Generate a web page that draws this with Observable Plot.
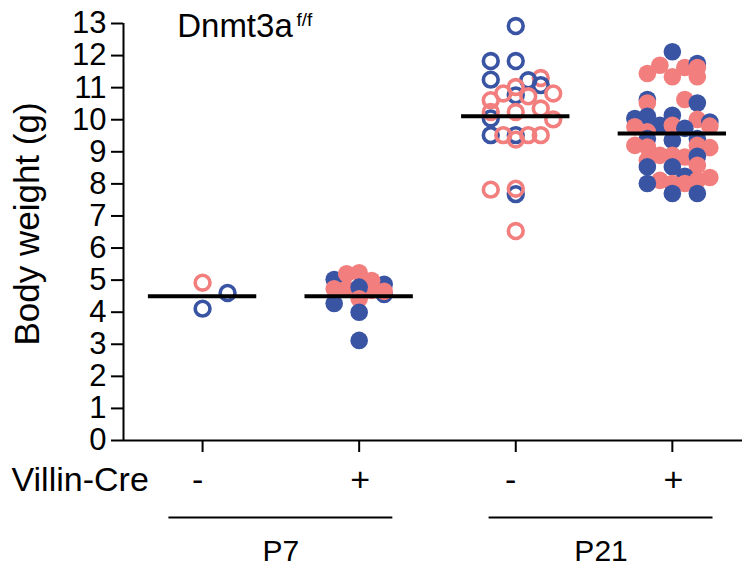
<!DOCTYPE html>
<html><head><meta charset="utf-8">
<script src="https://cdn.jsdelivr.net/npm/d3@7"></script>
<script src="https://cdn.jsdelivr.net/npm/@observablehq/plot@0.6"></script>
<style>html,body{margin:0;padding:0;background:#fff} svg{display:block}</style>
</head><body><div id="chart"></div>
<script>
// ---- data ----
const groups = ["P7 -", "P7 +", "P21 -", "P21 +"];
const creLabels = ["-", "+", "-", "+"];
const ages = ["P7", "P21"];
const yTicks = d3.range(0, 14);
const meanWeight = [4.50, 4.50, 10.11, 9.57];

// P7, Villin-Cre -  (open circles)
const p7NegWeight = [4.92, 4.11, 4.60];
const p7NegLane   = [0, 0, 2];
const p7NegSex    = ["F", "M", "M"];

// P7, Villin-Cre +  (filled)
const p7PosWeight = [5.02, 4.87, 4.55, 5.20, 5.23, 4.99, 4.73, 4.73, 4.68, 4.78, 4.27, 4.42, 4.00, 3.12, 4.65];
const p7PosLane   = [-2, 2, 2, -1, 0, 1, -2, -1, 1, 0, -2, 0, 0, 0, 2];
const p7PosSex    = ["M","M","M","F","F","F","F","F","F","M","M","F","M","M","F"];

// P21, Villin-Cre -  (open circles)
const p21NegWeight = [12.92, 11.83, 11.83, 11.25, 11.30, 11.23, 11.08, 10.76, 11.02, 10.82, 10.61, 10.73, 10.82, 10.04, 10.24, 10.24, 10.35, 10.01, 9.52, 9.52, 9.52, 9.38, 9.52, 9.52, 7.82, 7.68, 7.85, 6.53];
const p21NegLane   = [0, -2, 0, -2, 2, 1, 2, 0, 0, -1, -2, 1, 3, -2, -2, 0, 2, 3, -2, 0, -1, 0, 1, 2, -2, 0, 0, 0];
const p21NegSex    = ["M","M","M","M","F","M","M","M","F","F","F","F","F","M","F","F","F","F","M","M","F","F","F","F","F","M","F","F"];

// P21, Villin-Cre +  (filled)
const p21PosWeight = [12.12, 11.70, 11.44, 11.34, 11.63, 11.75, 11.63, 11.34, 10.63, 10.52, 10.63, 10.52, 10.04, 10.11, 10.14, 10.01, 9.93, 9.80, 9.78, 9.83, 9.83, 9.73, 9.62, 9.41, 9.36, 9.41, 9.20, 9.15, 9.20, 9.13, 8.89, 8.89, 8.84, 8.86, 8.74, 8.53, 8.53, 8.58, 8.24, 8.11, 8.01, 8.11, 8.20, 8.01, 8.01, 7.70, 7.70];
const p21PosLane   = [0, -1, -2, 0, 1, 2, 2, 2, -2, -2, 1, 2, -3, -2, 0, 2, 3, 3, -3, -1, 0, 1, -2, -2, 0, 2, -3, -2, 2, 3, -1, 0, 1, 2, -2, -2, 0, 2, 1, -1, 0, 2, 3, -2, 1, 0, 2];
const p21PosSex    = ["M","F","F","F","F","M","F","F","M","F","F","M","M","M","M","F","M","F","F","M","F","M","F","M","M","M","F","F","F","F","F","F","F","M","F","M","M","F","M","F","F","F","F","M","F","M","M"];

// ---- build table ----
const laneStep = 0.0798;
function build(g, w, lane, sex) {
  return w.map((v, i) => ({group: groups[g], x: g + lane[i] * laneStep, weight: v, sex: sex[i]}));
}
const openPts = [...build(0, p7NegWeight, p7NegLane, p7NegSex), ...build(2, p21NegWeight, p21NegLane, p21NegSex)];
const filledPts = [...build(1, p7PosWeight, p7PosLane, p7PosSex), ...build(3, p21PosWeight, p21PosLane, p21PosSex)];

const BLUE = "#3a54a4", PINK = "#f27e7e";
const xDomain = [-0.505, 3.448];
const meanHalf = 0.346, ageHalf = 0.715;
const ageShift = [0, 7];
const font = "'Liberation Sans', Arial, Helvetica, sans-serif";

const ageMarks = ages.flatMap((a, i) => [
  Plot.ruleY([a], {y: () => 0, x1: () => 2 * i + 0.5 - ageHalf, x2: () => 2 * i + 0.5 + ageHalf, dy: 77, dx: ageShift[i], strokeWidth: 2}),
  Plot.text([a], {x: () => 2 * i + 0.5, text: d => d, frameAnchor: "bottom", lineAnchor: "bottom", dy: 120, dx: ageShift[i], fontSize: 30})
]);

const plot = Plot.plot({
  width: 746, height: 570,
  marginLeft: 123, marginRight: 4, marginTop: 23, marginBottom: 130,
  style: {fontFamily: font, background: "white", color: "black", overflow: "visible"},
  x: {domain: xDomain, axis: null},
  y: {domain: [0, 13], axis: null},
  color: {domain: ["M", "F"], range: [BLUE, PINK]},
  marks: [
    Plot.axisY({ticks: yTicks, tickSize: 12, tickPadding: 5, fontSize: 31, strokeWidth: 2, tickFormat: d3.format("d"), label: null}),
    Plot.ruleX([xDomain[0]], {y1: 0, y2: 13, strokeWidth: 2}),
    Plot.ruleY([0], {strokeWidth: 2}),
    Plot.axisX({ticks: [0, 1, 2, 3], tickSize: 12, strokeWidth: 2, tickFormat: () => "", label: null}),
    Plot.dot(openPts, {x: "x", y: "weight", stroke: "sex", r: 7.4, strokeWidth: 3.6, fill: "none"}),
    Plot.dot(filledPts, {x: "x", y: "weight", fill: "sex", r: 8.8}),
    Plot.ruleY(meanWeight, {y: d => d, x1: (d, i) => i - meanHalf, x2: (d, i) => i + meanHalf, strokeWidth: 4, stroke: "black"}),
    // x labels
    Plot.text(creLabels.map((d, i) => ({label: d, i})).filter(d => d.label === "-"), {x: "i", text: "label", frameAnchor: "bottom", lineAnchor: "middle", dy: 40, dx: -5, fontSize: 34}),
    Plot.text(creLabels.map((d, i) => ({label: d, i})).filter(d => d.label === "+"), {x: "i", text: "label", frameAnchor: "bottom", lineAnchor: "middle", dy: 40, dx: 1, fontSize: 34}),
    Plot.text(["Villin-Cre"], {frameAnchor: "bottom-left", textAnchor: "end", lineAnchor: "bottom", dx: 25.3, dy: 50, fontSize: 34}),
    ...ageMarks,
    // title
    Plot.text(["Dnmt3a"], {frameAnchor: "top-left", textAnchor: "start", lineAnchor: "bottom", dx: 53.7, dy: 13.7, fontSize: 33}),
    Plot.text(["f/f"], {frameAnchor: "top-left", textAnchor: "start", lineAnchor: "bottom", dx: 173, dy: 2, fontSize: 19}),
    // y label
    Plot.text(["Body weight (g)"], {frameAnchor: "left", rotate: -90, textAnchor: "middle", lineAnchor: "bottom", dx: -84.7, dy: -8, fontSize: 35})
  ]
});
document.getElementById("chart").appendChild(plot);
</script>
</body></html>
